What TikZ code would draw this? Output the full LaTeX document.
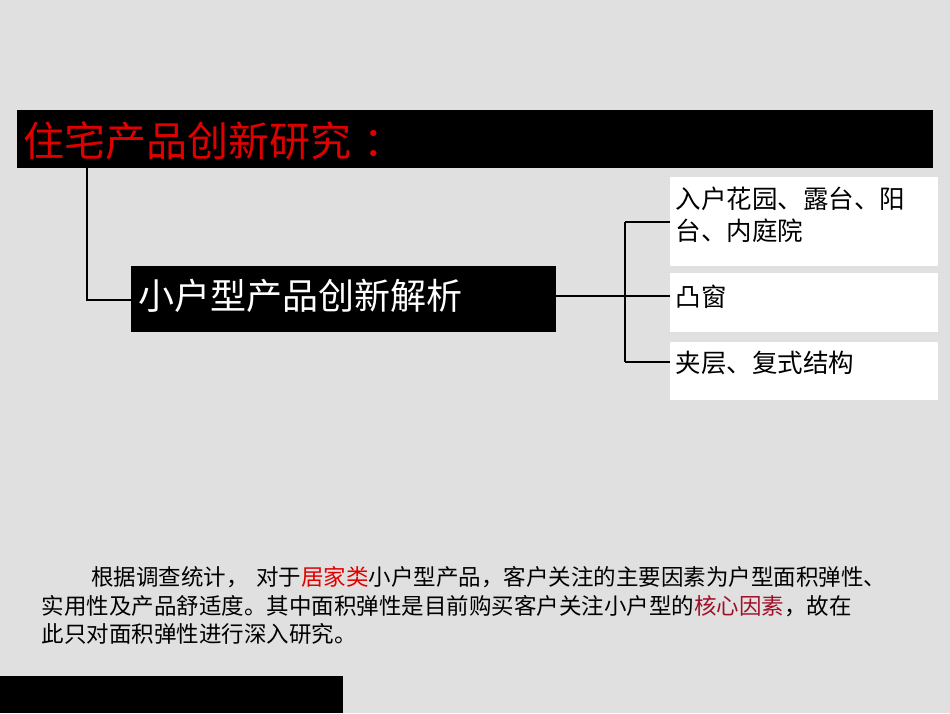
\documentclass[tikz,border=0pt]{standalone}
\usepackage{fontspec}
\setmainfont{Noto Sans CJK SC}
\begin{document}
\begin{tikzpicture}[x=1pt,y=-1pt,
  ln/.style={line width=2pt,black},
  wb/.style={fill=white,draw=none},
  bt/.style={anchor=west,font=\fontsize{25.5}{32}\selectfont,align=left}]
\definecolor{bg}{HTML}{E0E0E0}
\definecolor{tred}{HTML}{E00000}
\definecolor{dred}{HTML}{A0102A}
\fill[bg] (0,0) rectangle (950,713);
\useasboundingbox (0,0) rectangle (950,713);
\fill[black] (17,110) rectangle (933,168);
\node[anchor=west,text=tred,font=\fontsize{41}{44}\selectfont] (title) at (20,141) {住宅产品创新研究\hspace{0.3em}：};
\node[fill=black,minimum width=425pt,minimum height=66pt,inner sep=0pt] (main) at (343.5,299) {};
\node[anchor=west,text=white,font=\fontsize{36}{38}\selectfont] at (135,296) {小户型产品创新解析};
\coordinate (t0) at (87,168);
\coordinate (t1) at (87,300);
\draw[ln] (t0) -- (t1) -- (main.west |- t1);
\node[wb,minimum width=268pt,minimum height=89pt] (b1) at (804,221.5) {};
\node[wb,minimum width=268pt,minimum height=59pt] (b2) at (804,302.5) {};
\node[wb,minimum width=268pt,minimum height=58pt] (b3) at (804,371) {};
\node[bt] at (672,215) {入户花园、露台、阳\\台、内庭院};
\node[bt] at (672,297) {凸窗};
\node[bt] at (672,363) {夹层、复式结构};
\coordinate (j) at (625,296);
\coordinate (ja) at (625,222);
\coordinate (jc) at (625,362);
\draw[ln] (main.east |- j) -- (j);
\draw[ln] (ja) -- (jc);
\draw[ln] (ja) -- (b1.west |- ja);
\draw[ln] (j) -- (b2.west |- j);
\draw[ln] (jc) -- (b3.west |- jc);
\node[anchor=north west,align=left,font=\fontsize{22.5}{28.5}\selectfont,text width=930pt] (para) at (38,563)
{\hspace*{2.2em}根据调查统计， 对于\textcolor{tred}{居家类}小户型产品，客户关注的主要因素为户型面积弹性、\\
实用性及产品舒适度。其中面积弹性是目前购买客户关注小户型的\textcolor{dred}{核心因素}，故在\\
此只对面积弹性进行深入研究。};
\fill[black] (0,676) rectangle (343,713);
\end{tikzpicture}
\end{document}
